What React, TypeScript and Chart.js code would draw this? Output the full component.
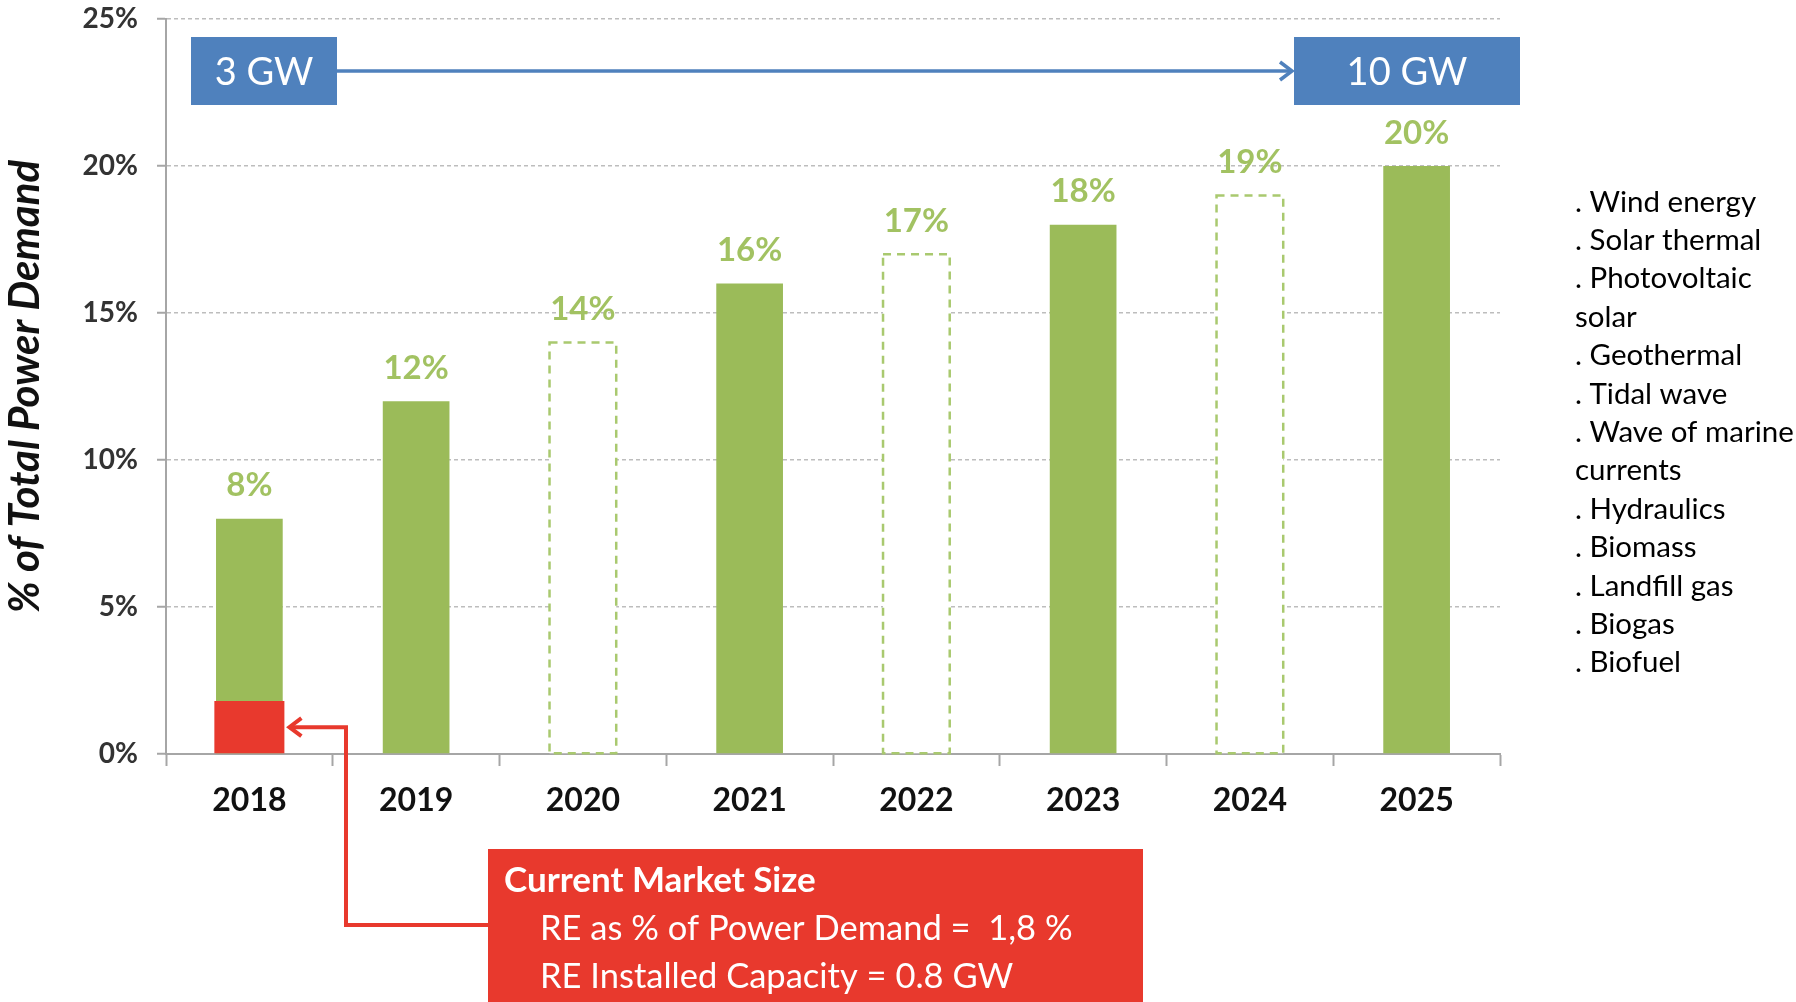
import React, { useEffect, useRef } from "react";
import { Chart, registerables } from "chart.js";

Chart.register(...registerables);

const years = ["2018", "2019", "2020", "2021", "2022", "2023", "2024", "2025"];
const shareValues = [8, 12, 14, 16, 17, 18, 19, 20];
const projected = [false, false, true, false, true, false, true, false];
const currentShare = [1.8, null, null, null, null, null, null, null];
const yTicks = [0, 5, 10, 15, 20, 25];
const capacityStart = "3 GW";
const capacityEnd = "10 GW";
const marketTitle = "Current Market Size";
const marketLines = ["RE as % of Power Demand =  1,8 %", "RE Installed Capacity = 0.8 GW"];
const sourceList = [
  ". Wind energy",
  ". Solar thermal",
  ". Photovoltaic",
  "solar",
  ". Geothermal",
  ". Tidal wave",
  ". Wave of marine",
  "currents",
  ". Hydraulics",
  ". Biomass",
  ". Landfill gas",
  ". Biogas",
  ". Biofuel",
];

const GREEN = "#9BBB59";
const GREEN_LABEL = "#A2C262";
const GREEN_DASH = "#A9C96F";
const BLUE = "#4F81BD";
const RED = "#E8392D";
const FONT = "Lato, 'Open Sans', sans-serif";

function arrowHead(ctx: CanvasRenderingContext2D, x: number, y: number, dir: number, size: number) {
  ctx.beginPath();
  ctx.moveTo(x - dir * size, y - size * 0.75);
  ctx.lineTo(x, y);
  ctx.lineTo(x - dir * size, y + size * 0.75);
  ctx.stroke();
}

const overlayPlugin = {
  id: "overlay",
  afterDatasetsDraw(chart: any) {
    const ctx: CanvasRenderingContext2D = chart.ctx;
    const meta = chart.getDatasetMeta(0);
    ctx.save();
    meta.data.forEach((el: any, i: number) => {
      const p = el.getProps(["x", "y", "base", "width"], true);
      if (projected[i]) {
        ctx.setLineDash([8, 6]);
        ctx.lineWidth = 2.5;
        ctx.strokeStyle = GREEN_DASH;
        ctx.strokeRect(p.x - p.width / 2, p.y, p.width, p.base - p.y);
        ctx.setLineDash([]);
      }
      ctx.fillStyle = GREEN_LABEL;
      ctx.font = `bold 33px ${FONT}`;
      ctx.textAlign = "center";
      ctx.textBaseline = "middle";
      ctx.fillText(`${shareValues[i]}%`, p.x, p.y - 33);
    });
    ctx.restore();
  },
  afterDraw(chart: any) {
    const ctx: CanvasRenderingContext2D = chart.ctx;
    ctx.save();
    // Blue capacity arrow and boxes
    const boxTop = 37;
    const boxH = 68;
    const midY = boxTop + boxH / 2;
    const b1 = { l: 191, r: 337 };
    const b2 = { l: 1294, r: 1520 };
    ctx.strokeStyle = BLUE;
    ctx.lineWidth = 3.5;
    ctx.beginPath();
    ctx.moveTo(b1.r, midY);
    ctx.lineTo(b2.l - 2, midY);
    ctx.stroke();
    arrowHead(ctx, b2.l - 2, midY, 1, 12);
    ctx.fillStyle = BLUE;
    ctx.fillRect(b1.l, boxTop, b1.r - b1.l, boxH);
    ctx.fillRect(b2.l, boxTop, b2.r - b2.l, boxH);
    ctx.fillStyle = "#FFFFFF";
    ctx.font = `38px ${FONT}`;
    ctx.textAlign = "center";
    ctx.textBaseline = "middle";
    ctx.fillText(capacityStart, (b1.l + b1.r) / 2, midY + 2);
    ctx.fillText(capacityEnd, (b2.l + b2.r) / 2, midY + 2);

    // Red connector from the current market bar to the box
    const redMeta = chart.getDatasetMeta(1);
    const rp = redMeta.data[0].getProps(["x", "y", "base", "width"], true);
    const tipX = rp.x + rp.width / 2 + 5;
    const tipY = (rp.y + rp.base) / 2;
    const boxL = 488;
    const boxR = 1143;
    const boxT = 849;
    const connY = 925;
    const elbowX = 346;
    ctx.strokeStyle = RED;
    ctx.lineWidth = 4;
    ctx.lineJoin = "miter";
    ctx.beginPath();
    ctx.moveTo(boxL, connY);
    ctx.lineTo(elbowX, connY);
    ctx.lineTo(elbowX, tipY);
    ctx.lineTo(tipX, tipY);
    ctx.stroke();
    arrowHead(ctx, tipX, tipY, -1, 12);

    ctx.fillStyle = RED;
    ctx.fillRect(boxL, boxT, boxR - boxL, chart.height - boxT);
    ctx.fillStyle = "#FFFFFF";
    ctx.textAlign = "left";
    ctx.textBaseline = "middle";
    ctx.font = `bold 35px ${FONT}`;
    ctx.fillText(marketTitle, 504, 881);
    ctx.font = `34.5px ${FONT}`;
    marketLines.forEach((t, i) => ctx.fillText(t, 540, 929 + i * 48));

    // Right-hand list
    ctx.fillStyle = "#000000";
    ctx.font = `29.5px ${FONT}`;
    sourceList.forEach((t, i) => ctx.fillText(t, 1575, 202 + i * 38.4));
    ctx.restore();
  },
};

export default function App() {
  const canvasRef = useRef<HTMLCanvasElement | null>(null);

  useEffect(() => {
    if (!canvasRef.current) return;
    const chart = new Chart(canvasRef.current, {
      type: "bar",
      data: {
        labels: years,
        datasets: [
          {
            label: "% of Total Power Demand",
            data: shareValues,
            backgroundColor: projected.map((p) => (p ? "rgba(255,255,255,1)" : GREEN)),
            borderWidth: 0,
            barPercentage: 0.4,
            categoryPercentage: 1,
            grouped: false,
            order: 2,
          } as any,
          {
            label: "Current market",
            data: currentShare,
            backgroundColor: RED,
            borderWidth: 0,
            barPercentage: 0.42,
            categoryPercentage: 1,
            grouped: false,
            order: 1,
          } as any,
        ],
      },
      options: {
        responsive: false,
        animation: false,
        layout: { padding: { top: 19, right: 296, left: 0, bottom: 0 } },
        plugins: {
          legend: { display: false },
          tooltip: { enabled: false },
          title: { display: false },
        },
        scales: {
          x: {
            offset: true,
            grid: {
              offset: true,
              drawOnChartArea: false,
              drawTicks: true,
              tickLength: 12,
              tickColor: "#A6A6A6",
              tickWidth: 2,
              color: "#A6A6A6",
            },
            border: { display: true, color: "#A6A6A6", width: 2 },
            ticks: {
              color: "#111111",
              font: { family: FONT, size: 32, weight: "bold" },
              padding: 15,
            },
            afterFit: (scale: any) => {
              scale.height = 248;
              scale.paddingLeft = 0;
              scale.paddingRight = 0;
            },
          },
          y: {
            min: 0,
            max: 25,
            afterBuildTicks: (scale: any) => {
              scale.ticks = yTicks.map((v) => ({ value: v }));
            },
            ticks: {
              color: "#333333",
              font: { family: FONT, size: 28, weight: "bold" },
              padding: 19,
              callback: (v: any) => `${v}%`,
            },
            grid: {
              color: "#BDBDBD",
              lineWidth: 1.5,
              drawTicks: true,
              tickLength: 9,
              tickColor: "#A6A6A6",
              tickWidth: 2,
            },
            border: { display: true, color: "#A6A6A6", width: 2, dash: [4, 3] },
            title: {
              display: true,
              text: "% of Total Power Demand",
              color: "#111111",
              font: { family: FONT, size: 42, weight: "bold", style: "italic" },
              padding: { top: 0, bottom: 0 },
            },
            afterFit: (scale: any) => {
              scale.width = 166;
              scale.paddingTop = 0;
              scale.paddingBottom = 0;
            },
          },
        },
      } as any,
      plugins: [overlayPlugin],
    });
    return () => chart.destroy();
  }, []);

  return (
    <div style={{ position: "absolute", left: 0, top: 0, width: 1796, height: 1002, background: "#fff" }}>
      <canvas ref={canvasRef} width={1796} height={1002} />
    </div>
  );
}
